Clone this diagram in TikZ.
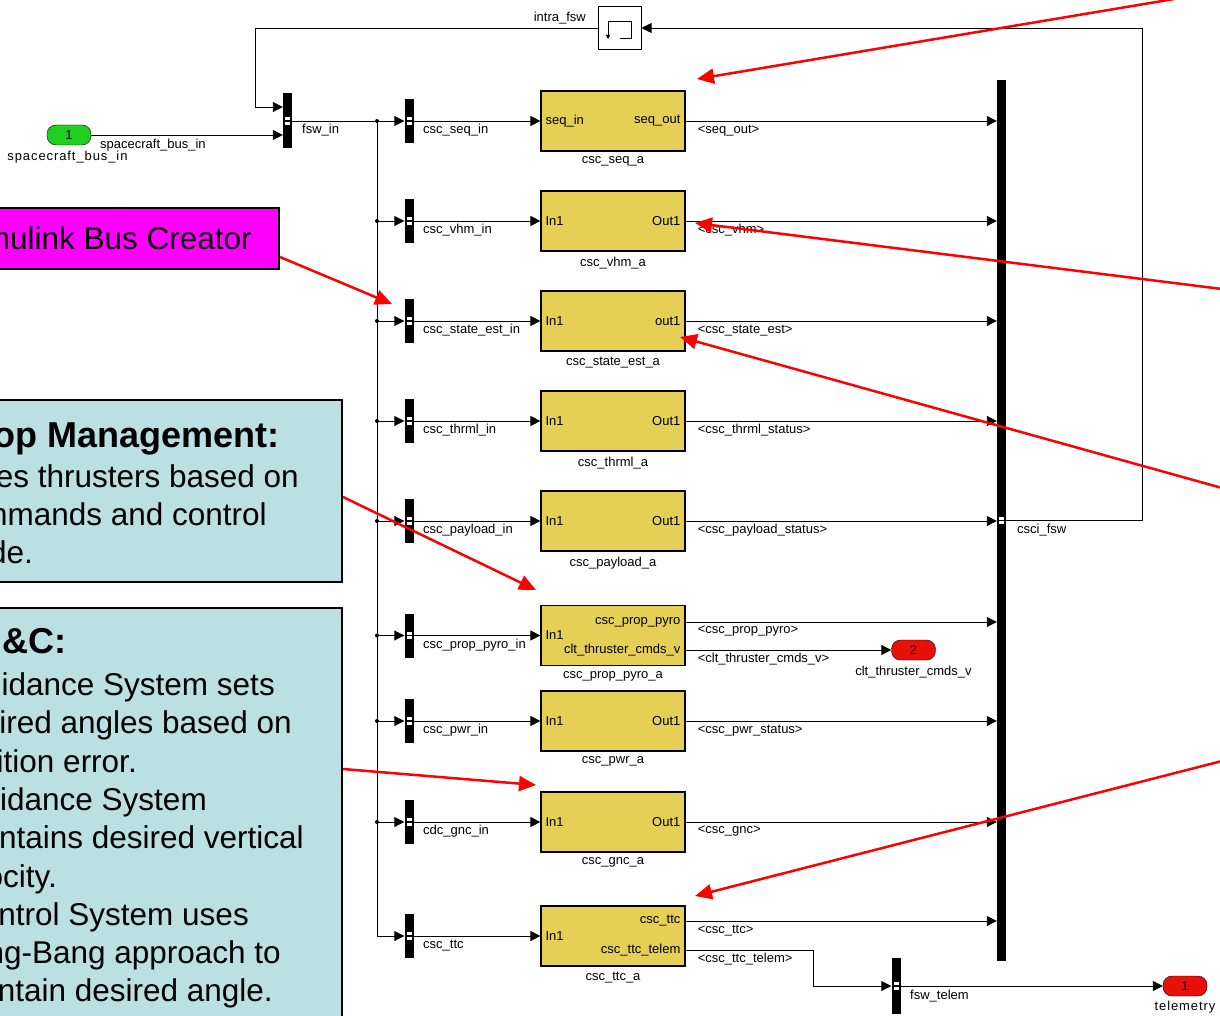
\documentclass[tikz,border=0pt]{standalone}
\usepackage{fontspec}
\setmainfont{Liberation Sans}
\usetikzlibrary{positioning,arrows.meta,calc}
\definecolor{cBlk}{HTML}{E6CF55}
\definecolor{cNote}{HTML}{BAE0E3}
\definecolor{cIn}{HTML}{1FD01F}
\definecolor{cOut}{HTML}{E8100A}
\definecolor{cMag}{HTML}{FF00FF}

\begin{document}
\begin{tikzpicture}[x=1pt,y=-1pt,>={Triangle[length=10pt,width=10pt]},
  font=\fontsize{13}{14}\selectfont,
  sig/.style={line width=0.9pt},
  blk/.style={draw,fill=cBlk,line width=1.2pt,minimum width=144pt,minimum height=60pt,inner sep=0pt},
  bar/.style={fill=black,minimum width=9pt,minimum height=#1,inner sep=0pt},
  bar/.default=44pt,
  io/.style={draw,fill=#1,rounded corners=9pt,minimum width=44pt,minimum height=20pt,inner sep=0pt},
  lbl/.style={inner sep=0pt},
  wide/.style={inner sep=0pt,font=\fontsize{13}{14}\selectfont\addfontfeature{LetterSpace=7}},
  note/.style={draw,line width=1.6pt,fill=#1},
  ntxt/.style={inner sep=0pt,anchor=base east,font=\fontsize{31.5}{36}\selectfont},
  nhdr/.style={inner sep=0pt,anchor=base east,font=\fontsize{36}{40}\selectfont\bfseries},
  call/.style={red,line width=2.5pt,-{Triangle[length=17pt,width=15pt]}}]
\useasboundingbox (0,0) rectangle (1220,1016);
\clip (0,0) rectangle (1220,1016);
% bus creators and delay
\node[bar=55pt] (fin) at (287.5,121) {};
\node[bar=56pt] (ftl) at (896,986) {};
\node[bar=881pt] (fsw) at (1001.5,520.5) {};
\node[draw,fill=white,line width=1pt,minimum size=43pt,inner sep=0pt] (dly) at (619.5,28) {};
\draw[line width=0.8pt,-{Triangle[length=4pt,width=4pt]}] (620,38)--(631,38)--(631,21)--(608,21)--(608,39);
\node[io=cIn] (inp) at (69,135) {1};
\node[io=cOut] (out2) at (913.5,650) {2};
\node[io=cOut] (out1) at (1185,986) {1};
% csc rows
\foreach \n/\y/\sg/\nm/\pin in {seq/121/csc\_seq\_in/csc\_seq\_a/seq\_in, vhm/221/csc\_vhm\_in/csc\_vhm\_a/In1,
  ste/321/csc\_state\_est\_in/csc\_state\_est\_a/In1, thr/421/csc\_thrml\_in/csc\_thrml\_a/In1,
  pay/521/csc\_payload\_in/csc\_payload\_a/In1, pyr/635.5/csc\_prop\_pyro\_in/csc\_prop\_pyro\_a/In1,
  pwr/721/csc\_pwr\_in/csc\_pwr\_a/In1, gnc/822/cdc\_gnc\_in/csc\_gnc\_a/In1, ttc/936/csc\_ttc/csc\_ttc\_a/In1}{
  \node[bar] (s\n) at (409,\y) {};
  \node[blk] (b\n) at (613,\y) {};
  \draw[sig,->] (s\n.east) -- (b\n.west);
  \node[lbl,anchor=west] (l\n) at (423,\y+9.5) {\sg};
  \node[lbl,anchor=north] (n\n) at ([yshift=-5pt]b\n.south) {\nm};
  \node[lbl,anchor=west] (pi\n) at ([xshift=5pt]b\n.west) {\pin};
}
\foreach \n/\pout/\sg in {seq/seq\_out/seq\_out, vhm/Out1/csc\_vhm, ste/out1/csc\_state\_est,
  thr/Out1/csc\_thrml\_status, pay/Out1/csc\_payload\_status, pwr/Out1/csc\_pwr\_status, gnc/Out1/csc\_gnc}{
  \node[lbl,anchor=east] (po\n) at ([xshift=-5pt]b\n.east) {\pout};
  \node[lbl,anchor=west] (o\n) at ([xshift=12pt,yshift=-9.5pt]b\n.east) {<\sg>};
  \draw[sig,->] (b\n.east) -- (fsw.west |- b\n.east);
}
% two-output blocks
\coordinate (pyA) at ([yshift=13.5pt]bpyr.east);
\coordinate (pyB) at ([yshift=-14.5pt]bpyr.east);
\coordinate (ttA) at ([yshift=15pt]bttc.east);
\coordinate (ttB) at ([yshift=-14pt]bttc.east);
\node[lbl,anchor=east] (popyA) at ([xshift=-5pt]pyA) {csc\_prop\_pyro};
\node[lbl,anchor=east] (popyB) at ([xshift=-5pt]pyB) {clt\_thruster\_cmds\_v};
\node[lbl,anchor=east] (pottA) at ([xshift=-5pt]ttA) {csc\_ttc};
\node[lbl,anchor=east] (pottB) at ([xshift=-5pt]ttB) {csc\_ttc\_telem};
\node[lbl,anchor=west] (opyA) at ([xshift=12pt,yshift=-9.5pt]pyA) {<csc\_prop\_pyro>};
\node[lbl,anchor=west] (opyB) at ([xshift=12pt,yshift=-9.5pt]pyB) {<clt\_thruster\_cmds\_v>};
\node[lbl,anchor=west] (ottA) at ([xshift=12pt,yshift=-9.5pt]ttA) {<csc\_ttc>};
\node[lbl,anchor=west] (ottB) at ([xshift=12pt,yshift=-9.5pt]ttB) {<csc\_ttc\_telem>};
% other labels
\node[lbl,anchor=west] (lfin) at (302,130) {fsw\_in};
\node[lbl,anchor=west] (lsb) at (100,145) {spacecraft\_bus\_in};
\node[wide] (ninp) at (67.5,157) {spacecraft\_bus\_in};
\node[lbl,anchor=east] (ldly) at (586,18) {intra\_fsw};
\node[lbl,anchor=west] (lfsw) at (1017,530) {csci\_fsw};
\node[lbl,anchor=west] (lftl) at (910,996) {fsw\_telem};
\node[lbl] (nout2) at (913.5,672) {clt\_thruster\_cmds\_v};
\node[wide] (nout1) at (1185,1007) {telemetry};
% port marks on the bars
\foreach \b in {fin,ftl,fsw,sseq,svhm,sste,sthr,spay,spyr,spwr,sgnc,sttc}{
  \fill[white] ([xshift=-2.5pt,yshift=0.8pt]\b.center) rectangle ([xshift=2.5pt,yshift=3.8pt]\b.center);
  \fill[white] ([xshift=-2.5pt,yshift=-0.8pt]\b.center) rectangle ([xshift=2.5pt,yshift=-3.8pt]\b.center);}
% signal lines
\coordinate (jn) at (377,121);
\coordinate (fbk) at (1142,28);
\coordinate (fbl) at (255,107);
\coordinate (tk) at (813,986);
\draw[sig,->] (inp.east) -- ([yshift=-14pt]fin.west);
\draw[sig,->] (dly.west) -| (fbl) -- ([yshift=14pt]fin.west);
\draw[sig,->] (fsw.east) -| (fbk) -- (dly.east);
\draw[sig,->] (fin.east) -- (sseq.west);
\draw[sig,->] (jn) |- (sttc.west);
\fill (jn) circle (2pt);
\foreach \n in {vhm,ste,thr,pay,pyr,pwr,gnc}{
  \draw[sig,->] (jn |- s\n) -- (s\n.west);
  \fill (jn |- s\n) circle (2pt);}
\draw[sig,->] (pyA) -- (fsw.west |- pyA);
\draw[sig,->] (pyB) -- (out2.west);
\draw[sig,->] (ttA) -- (fsw.west |- ttA);
\draw[sig,->] (ttB) -| (tk) -- (ftl.west);
\draw[sig,->] (ftl.east) -- (out1.west);
% notes
\node[note=cMag,minimum width=320pt,minimum height=61pt,anchor=east] (noteBus) at (280,238.5) {};
\node[note=cNote,minimum width=400pt,minimum height=182pt,anchor=east] (noteProp) at (343,491) {};
\node[note=cNote,minimum width=400pt,minimum height=440pt,anchor=east] (noteGnc) at (343,828) {};
\node[ntxt] (tBus) at (252,250) {mulink Bus Creator};
\node[nhdr] (tP0) at (280,447) {op Management:};
\foreach \k/\x/\y/\tx in {1/299/487/es thrusters based on, 2/267/525/mmands and control, 3/33/563/de.}{
  \node[ntxt] (tP\k) at (\x,\y) {\tx};}
\node[nhdr] (tG0) at (67,653) {N\&C:};
\foreach \k/\x/\y/\tx in {1/275/695/idance System sets, 2/292/733/ired angles based on, 3/137/772/ition error.,
  4/207/810/idance System, 5/304/848/ntains desired vertical, 6/57/887/ocity.,
  7/249/925/ntrol System uses, 8/281/963/ng-Bang approach to, 9/273/1001/ntain desired angle.}{
  \node[ntxt] (tG\k) at (\x,\y) {\tx};}
% callouts
\coordinate (c1) at (1180,-2);  \coordinate (t1) at (697,79);
\coordinate (c2) at (1222,289); \coordinate (t2) at (695,223);
\coordinate (c3) at (1222,488); \coordinate (t3) at (680,337);
\coordinate (c4) at (1222,761); \coordinate (t4) at (695,896);
\coordinate (t5) at (392,304);
\coordinate (t6) at (536,590);
\coordinate (t7) at (536,785);
\draw[call] (c1) -- (t1);
\draw[call] (c2) -- (t2);
\draw[call] (c3) -- (t3);
\draw[call] (c4) -- (t4);
\draw[call] ([yshift=-18.5pt]noteBus.east) -- (t5);
\draw[call] ([yshift=-6pt]noteProp.east) -- (t6);
\draw[call] ([yshift=59pt]noteGnc.east) -- (t7);
\end{tikzpicture}
\end{document}
